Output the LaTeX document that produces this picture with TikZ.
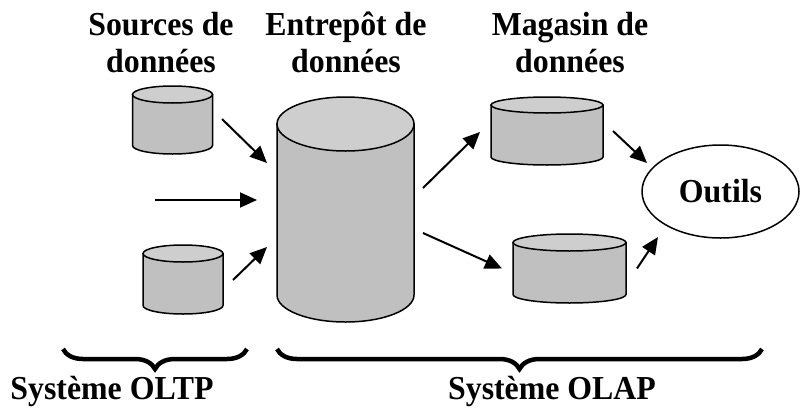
\documentclass[tikz,border=0pt]{standalone}
\usepackage{fontspec}
\setmainfont{Liberation Serif}[FakeStretch=0.95]
\usepackage{tikz}
\usetikzlibrary{positioning,arrows.meta,calc,shapes.geometric,decorations.pathreplacing}
\definecolor{dbgray}{RGB}{192,192,192}
\definecolor{dblight}{RGB}{206,206,206}
\tikzset{
  flow/.style={-{Triangle[length=17pt,width=15pt]},line width=2pt},
  dbline/.style={line width=1.5pt},
  lbl/.style={font=\bfseries\fontsize{33.5}{37}\selectfont,align=center,inner sep=0pt},
  tool/.style={ellipse,draw,line width=1.5pt,minimum width=157pt,minimum height=93pt,inner sep=0pt},
  brc/.style={decorate,decoration={brace,mirror,amplitude=20pt},line width=4.5pt},
  hold/.style={inner sep=0pt,outer sep=0pt}, % invisible box round a cylinder
}
% database cylinder: name, cx, top y, bottom y, x radius, y radius
\newcommand{\dbcyl}[6]{%
  \draw[dbline,fill=dbgray] (#2-#5,#3) -- (#2-#5,#4)
    arc[start angle=180,end angle=0,x radius=#5,y radius=#6] -- (#2+#5,#3) -- cycle;
  \draw[dbline,fill=dblight] (#2,#3) ellipse[x radius=#5,y radius=#6];
  \node[hold,minimum width=2*#5,minimum height=#4-#3] (#1) at (#2,{(#3+#4)/2}) {};
}

\begin{document}
\begin{tikzpicture}[x=1pt,y=-1pt]
  \useasboundingbox (0,0) rectangle (800,407);
  % column titles (base = last line)
  \node[lbl,anchor=base] (tsrc) at (161,72) {Sources de\\données};
  \node[lbl,anchor=base] (tdw) at (346,72) {Entrepôt de\\données};
  \node[lbl,anchor=base] (tdm) at (570,72) {Magasin de\\données};
  % stores
  \dbcyl{src1}{172.5}{94.5}{145.5}{40}{8.5}
  \dbcyl{src2}{183}{253.5}{305.5}{40}{8.5}
  \dbcyl{dw}{345.5}{124}{295}{68.5}{27}
  \dbcyl{dm1}{547}{105}{157}{56}{8}
  \dbcyl{dm2}{569.5}{242.5}{294.5}{56.5}{8.5}
  \node[tool,lbl] (outils) at (720.5,191.5) {Outils};
  \coordinate (oltpin) at (155,200);
  % flows
  \draw[flow] ($(src1.east)+(9.5,-1)$) -- ($(dw.west)+(-10,-46.5)$);
  \draw[flow] (oltpin) -- ($(dw.west)+(-20,-9.5)$);
  \draw[flow] ($(src2.east)+(10,0.5)$) -- ($(dw.west)+(-10,37.5)$);
  \draw[flow] ($(dw.east)+(9,-21.5)$) -- ($(dm1.west)+(-11,1)$);
  \draw[flow] ($(dw.east)+(9,23.5)$) -- ($(dm2.west)+(-11,0)$);
  \draw[flow] ($(dm1.east)+(10,0)$) -- ($(outils.center)+(-73.5,-28.5)$);
  \draw[flow] ($(dm2.east)+(11,0)$) -- ($(outils.center)+(-62.5,45.5)$);
  % systems
  \draw[brc] (63,349) -- (247,349);
  \draw[brc] (277,349) -- (762,349);
  \node[lbl,anchor=base] (oltp) at (112,399) {Système OLTP};
  \node[lbl,anchor=base] (olap) at (552,399) {Système OLAP};
\end{tikzpicture}
\end{document}
